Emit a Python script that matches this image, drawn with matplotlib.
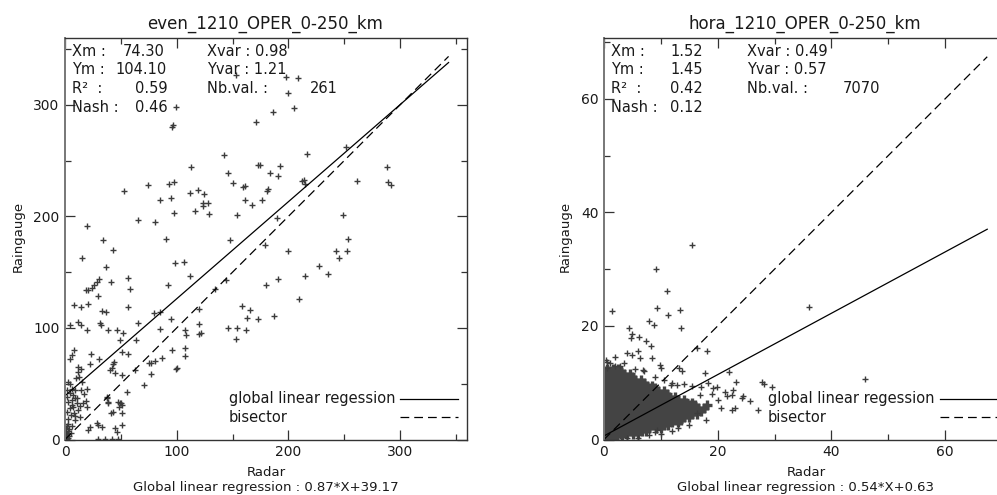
import matplotlib
matplotlib.use("Agg")
import matplotlib.pyplot as plt
import numpy as np

W, H = 997, 495

# ---------------- data: left panel (event totals) ----------------
even_x = [153, 197.5, 209, 200, 99.5, 205.5, 186.5, 96, 97, 171, 252, 217, 142, 113, 173, 174.5,
          288, 192.5, 146, 184, 191, 150, 159.5, 161.5, 182, 181, 212.5, 214, 215, 261.6, 289.4,
          291.5, 161, 167.4, 176, 154, 190, 249, 53.2, 74.7, 93.3, 97.8, 85.2, 95, 112, 118.7,
          124.7, 124, 128.5, 123.5, 98, 116.6, 129, 65.8, 80.7, 19.5, 34.4, 42.8, 90.6, 148,
          253.5, 179, 199.7, 242.8, 252.6, 245.7, 15, 36.8, 98.7, 106.7, 111.8, 92, 30.8, 28.4,
          25.7, 23.9, 18.5, 20.4, 41.2, 56.2, 58.3, 29.3, 227.8, 235.3, 214.6, 190.8, 180.3,
          144.1, 134.5, 209.3, 120.2, 158.5, 165.3, 163, 172.8, 187.4, 145.6, 154, 162.3, 153.4,
          8.3, 14.3, 20.9, 32.9, 36.8, 56.2, 79.8, 85.2, 31.4, 4.8, 11.4, 14.3, 19.5, 32.3, 38.8,
          46.4, 52.3, 49.3, 65.7, 63.4, 85.2, 94.8, 107.6, 108.3, 107.6, 107.6, 119.6, 119.6,
          121.7, 7.8, 6, 4.2, 23.3, 22.4, 30.8, 11.9, 14.3, 11.4, 9.6, 12.6, 15, 3, 4.5, 1.5, 6,
          9, 19.5, 43.3, 44.2, 40.4, 41.9, 44.8, 50.9, 56.8, 62.8, 50.9, 71.1, 77.1, 80.4, 86.7,
          76.9, 95.7, 100.2, 55.3, 4.5, 7.4, 9, 6, 3, 10.5, 7.4, 4.5, 11.9, 16.4, 19.5, 13.5, 9,
          3, 17.3, 18.8, 37.4, 38.9, 49.3, 50.9, 48.7, 41.3, 43.3, 50.9, 28.4, 29.9, 32.9, 22.4,
          20.9, 50.9, 44.8, 46.3, 29.3, 35.9, 41.9, 47.8, 1, 2, 3, 1, 4, 2, 5, 3, 0.5, 4, 2, 1,
          0.5, 3, 6, 5, 2, 8, 6, 2, 11, 13, 9, 14, 99.3, 75.6, 47.8, 50.0, 38.3, 38.0]
even_y = [327, 325, 324, 311, 298, 297, 294, 280, 282, 285, 262, 256, 255, 244, 246, 245.7,
          244, 245.5, 239, 239, 236, 230, 226, 227.5, 225, 223, 231.6, 233, 229.5, 231.6, 231,
          228.4, 215, 210, 215, 201, 198.5, 201.5, 222.7, 227.8, 229.3, 230.7, 215, 216.4, 221,
          223.3, 219.7, 212, 212, 209.8, 203, 204.5, 202.4, 197, 195, 191, 178.5, 170.2, 179.4,
          178.5, 179.5, 174.7, 168.7, 169, 169, 162.7, 162.7, 154.6, 158.5, 159, 146.3, 138.8,
          143.6, 141.2, 138.2, 135.8, 134.4, 133.7, 141.2, 144.8, 135.3, 128.7, 155.5, 148.7,
          146.3, 144.2, 138.9, 142.7, 134.6, 126.3, 117.4, 119.4, 115.8, 109.3, 108.4, 110.7,
          100.4, 100.4, 98.2, 90.2, 121, 118.8, 121.8, 115, 114.3, 118.8, 113.4, 114.3, 104.5,
          103, 105.4, 103, 98.6, 103, 98.6, 98.6, 95.5, 89.6, 104.8, 89.6, 98.8, 108.4, 98.6,
          93.5, 82, 75, 104, 95, 95.9, 80, 75.6, 72, 76.5, 67.5, 72.6, 65, 62.8, 60.6, 54.7,
          56.1, 51.7, 51.7, 50.2, 44.8, 45.7, 44.2, 45, 68, 69.6, 62, 64, 59.7, 78.5, 77, 62,
          57.6, 48.7, 68.7, 70.2, 73.1, 58.3, 80, 64.2, 42.7, 41.3, 39.8, 36.8, 35.3, 33.8,
          32.3, 29.3, 27.8, 26.3, 33, 29.3, 20.3, 17.3, 18.8, 40.4, 34.4, 36.8, 32.3, 32.3,
          30.8, 29.3, 23.4, 24.3, 23.9, 15, 12.9, 11.4, 11.4, 8.4, 12.9, 9.9, 6.9, 0.5, 0.5,
          0.5, 0.5, 2, 5, 8, 10, 3, 0.5, 6, 1, 4, 9, 12, 7, 0.5, 14, 12, 22, 25, 24, 31, 38, 37,
          30, 21, 44, 63.6, 69, 33.8, 32.3, 33.8, 38.2]

# ---------------- data: right panel (hourly) ----------------
hora_x = [15.5, 9.1, 11.1, 1.4, 9.4, 11.3, 13.4, 8.0, 8.8, 13.5, 4.4, 5.0, 4.7, 6.2, 7.3, 8.3,
          16.3, 18.1, 1.9, 0.6, 0.5, 4.0, 4.9, 6.0, 6.3, 8.4, 9.9, 10.1, 13.2, 13.7, 17.8, 21.9,
          23.3, 27.7, 28.1, 29.6, 27.1, 25.7, 24.2, 24.5, 23.0, 22.5, 22.7, 22.5, 19.8, 19.2,
          21.3, 21.6, 18.3, 16.3, 12.8, 8.9, 9.3, 36.1, 45.9,
          0.3, 1.0, 2.0, 3.5, 5.5, 7.0, 9.0, 10.5, 12.0, 14.0, 15.5, 17.0, 19.0, 20.0, 20.5,
          18.0, 15.0, 12.0, 10.0, 13.0, 6.0, 4.0, 8.0, 2.8, 6.8, 11.8, 16.8]
hora_y = [34.2, 30.0, 26.2, 22.6, 23.1, 21.9, 22.8, 20.9, 20.2, 19.7, 19.6, 18.5, 17.9, 18.1,
          17.4, 16.4, 16.1, 15.6, 14.6, 13.7, 12.6, 15.2, 14.9, 15.5, 14.3, 14.3, 13.1, 12.6,
          12.6, 12.1, 11.7, 11.9, 10.2, 10.1, 9.8, 9.3, 5.2, 6.8, 7.3, 7.6, 5.5, 5.2, 8.7, 7.9,
          9.3, 9.0, 8.4, 7.6, 9.9, 4.6, 9.6, 1.4, 1.7, 23.4, 10.6,
          14.0, 13.5, 13.0, 13.5, 12.5, 12.0, 11.0, 10.5, 10.0, 9.8, 9.5, 9.2, 8.0, 7.0, 5.5,
          3.5, 2.5, 1.5, 1.0, 2.0, 0.3, 0.2, 0.8, 13.0, 12.3, 9.6, 7.8]

# dense core of the hourly cloud, read row by row (rain-gauge value : radar values)
hora_core_rows = [
    (0.2, [0.2, 1.0, 1.8]),
    (0.6, [0.5, 1.4, 2.3, 3.1]),
    (1.0, [0.1, 1.0, 2.0, 3.0, 4.0, 5.1, 6.0]),
    (1.5, [0.5, 1.5, 2.5, 3.5, 4.5, 5.5, 6.6, 7.4]),
    (2.0, [0.0, 1.0, 2.0, 3.0, 4.0, 5.0, 6.0, 7.0, 8.0, 9.1, 10.0]),
    (2.5, [0.5, 1.5, 2.5, 3.5, 4.5, 5.5, 6.5, 7.5, 8.5, 9.5, 10.6, 11.3]),
    (3.0, [0.0, 1.0, 2.0, 3.0, 4.0, 5.0, 6.0, 7.0, 8.0, 9.0, 10.0, 11.0, 12.0, 13.1]),
    (3.5, [0.5, 1.5, 2.5, 3.5, 4.5, 5.5, 6.5, 7.5, 8.5, 9.5, 10.5, 11.5, 12.5, 13.5]),
    (4.0, [0.0, 1.0, 2.0, 3.0, 4.0, 5.0, 6.0, 7.0, 8.0, 9.0, 10.0, 11.0, 12.0, 13.0, 14.0, 15.0]),
    (4.5, [0.5, 1.5, 2.5, 3.5, 4.5, 5.5, 6.5, 7.5, 8.5, 9.5, 10.5, 11.5, 12.5, 13.5, 14.5, 15.5, 16.4]),
    (5.0, [0.0, 1.0, 2.0, 3.0, 4.0, 5.0, 6.0, 7.0, 8.0, 9.0, 10.0, 11.0, 12.0, 13.0, 14.0, 15.0, 16.0, 17.0]),
    (5.5, [0.5, 1.5, 2.5, 3.5, 4.5, 5.5, 6.5, 7.5, 8.5, 9.5, 10.5, 11.5, 12.5, 13.5, 14.5, 15.5, 16.5, 17.5]),
    (6.0, [0.0, 1.0, 2.0, 3.0, 4.0, 5.0, 6.0, 7.0, 8.0, 9.0, 10.0, 11.0, 12.0, 13.0, 14.0, 15.0, 16.0, 18.2]),
    (6.5, [0.5, 1.5, 2.5, 3.5, 4.5, 5.5, 6.5, 7.5, 8.5, 9.5, 10.5, 11.5, 12.5, 13.5, 14.5, 15.5]),
    (7.0, [0.0, 1.0, 2.0, 3.0, 4.0, 5.0, 6.0, 7.0, 8.0, 9.0, 10.0, 11.0, 12.0, 13.0, 14.0]),
    (7.5, [0.5, 1.5, 2.5, 3.5, 4.5, 5.5, 6.5, 7.5, 8.5, 9.5, 10.5, 11.5, 12.5]),
    (8.0, [0.0, 1.0, 2.0, 3.0, 4.0, 5.0, 6.0, 7.0, 8.0, 9.0, 10.0, 11.0]),
    (8.5, [0.5, 1.5, 2.5, 3.5, 4.5, 5.5, 6.5, 7.5, 8.5, 9.5, 10.5]),
    (9.0, [0.0, 1.0, 2.0, 3.0, 4.0, 5.0, 6.0, 7.0, 8.0, 9.0]),
    (9.5, [0.5, 1.5, 2.5, 3.5, 4.5, 5.5, 6.5, 7.5, 8.5]),
    (10.0, [0.0, 1.0, 2.0, 3.0, 4.0, 5.0, 6.0, 7.0]),
    (10.5, [0.5, 1.5, 2.5, 3.5, 4.5, 5.5, 6.5]),
    (11.0, [0.0, 1.0, 2.0, 3.0, 4.0, 5.0]),
    (11.5, [0.5, 1.5, 2.5, 3.5, 4.5]),
    (12.0, [0.0, 1.0, 2.0, 3.0]),
    (12.5, [0.5, 1.5, 2.5]),
]

# regression / stats
even_reg = (0.87, 39.17)
hora_reg = (0.54, 0.63)
even_line_xmax = 343.5
hora_line_xmax = 67.4
even_title = "even_1210_OPER_0-250_km"
hora_title = "hora_1210_OPER_0-250_km"
even_stats = dict(Xm="74.30", Ym="104.10", R2="0.59", Nash="0.46", Xvar="0.98", Yvar="1.21", Nb="261")
hora_stats = dict(Xm="1.52", Ym="1.45", R2="0.42", Nash="0.12", Xvar="0.49", Yvar="0.57", Nb="7070")

# ---------------- drawing ----------------
fig = plt.figure(figsize=(W / 100, H / 100), dpi=100)
fig.patch.set_facecolor("white")
TXT = "#1a1a1a"
PT = "#3c3c3c"


def px_axes(left, top, width, height):
    return fig.add_axes([left / W, 1 - (top + height) / H, width / W, height / H])


def ftxt(x, y, s, size=10.5, ha="left", **kw):
    fig.text(x / W, 1 - y / H, s, ha=ha, va="center", fontsize=size, color=TXT, **kw)


def style(ax, lim, major, minor, right=True):
    ax.set_xlim(0, lim)
    ax.set_ylim(0, lim)
    ax.set_xticks(major)
    ax.set_yticks(major)
    ax.set_xticks(minor, minor=True)
    ax.set_yticks(minor, minor=True)
    ax.tick_params(which="both", direction="in", top=True, right=right, width=0.9, color="#333333")
    ax.tick_params(which="major", length=7, labelsize=10, labelcolor=TXT, pad=4)
    ax.tick_params(which="minor", length=4)
    for sp in ax.spines.values():
        sp.set_linewidth(1.0)
        sp.set_color("#333333")
    ax.spines["left"].set_color("#777777")
    ax.spines["left"].set_linewidth(1.4)


# left panel
axL = px_axes(65, 38, 402, 401.5)
style(axL, 360, [0, 100, 200, 300], [50, 150, 250, 350])
axL.plot(even_x, even_y, "+", color=PT, ms=4.6, mew=1.0, ls="none")
xl = np.array([0, even_line_xmax])
axL.plot(xl, even_reg[0] * xl + even_reg[1], color="black", lw=0.9)
axL.plot(xl, xl, color="black", lw=0.9, dashes=(7, 4))

# right panel
axR = px_axes(604, 38, 402, 401.5)
style(axR, 70.7, [0, 20, 40, 60], [10, 30, 50, 70], right=False)
axR.spines["right"].set_visible(False)
core_x = [x for _, xs in hora_core_rows for x in xs]
core_y = [y for y, xs in hora_core_rows for _ in xs]
axR.plot(core_x, core_y, "+", color="#444444", ms=7.0, mew=2.4, ls="none")
axR.plot(hora_x, hora_y, "+", color=PT, ms=4.6, mew=1.0, ls="none")
xr = np.array([0, hora_line_xmax])
axR.plot(xr, hora_reg[0] * xr + hora_reg[1], color="black", lw=0.9)
axR.plot(xr, xr, color="black", lw=0.9, dashes=(7, 4))

# titles
ftxt(265, 24, even_title, size=12, ha="center")
ftxt(805, 24, hora_title, size=12, ha="center")

# axis labels
ftxt(18, 236, "Raingauge", size=9.5, ha="center", rotation=90)
ftxt(565, 236, "Raingauge", size=9.5, ha="center", rotation=90)
ftxt(266, 472, "Radar", size=9.5, ha="center")
ftxt(806, 472, "Radar", size=9.5, ha="center")
ftxt(266, 488, "Global linear regression : %.2f*X+%.2f" % even_reg, size=9.5, ha="center")
ftxt(805, 488, "Global linear regression : %.2f*X+%.2f" % hora_reg, size=9.5, ha="center")

# stats blocks
rows = [52, 70, 88.5, 107]
def stats(x0, xcol, vals_x, nbx, st):
    ftxt(x0, rows[0], "Xm :")
    ftxt(x0, rows[1], "Ym :")
    ftxt(x0, rows[2], "R²  :")
    ftxt(x0, rows[3], "Nash :")
    ftxt(vals_x[0], rows[0], st["Xm"])
    ftxt(vals_x[1], rows[1], st["Ym"])
    ftxt(vals_x[2], rows[2], st["R2"])
    ftxt(vals_x[3], rows[3], st["Nash"])
    ftxt(xcol, rows[0], "Xvar : " + st["Xvar"])
    ftxt(xcol, rows[1], "Yvar : " + st["Yvar"])
    ftxt(xcol, rows[2], "Nb.val. :")
    ftxt(nbx, rows[2], st["Nb"])

stats(72, 207, [123, 115, 135, 135], 310, even_stats)
stats(611, 747, [670, 670, 670, 670], 843, hora_stats)

# legends (drawn in pixel space like the original)
def legend(tx, lx0, lx1):
    ftxt(tx, 399, "global linear regession")
    ftxt(tx, 417, "bisector")
    fig.add_artist(plt.Line2D([lx0 / W, lx1 / W], [1 - 399 / H, 1 - 399 / H], color="black", lw=0.9))
    fig.add_artist(plt.Line2D([lx0 / W, lx1 / W], [1 - 417 / H, 1 - 417 / H], color="black", lw=0.9,
                              dashes=(7, 4)))

legend(229, 400, 458)
legend(768, 940, 1000)

fig.savefig("out.png", dpi=100)
